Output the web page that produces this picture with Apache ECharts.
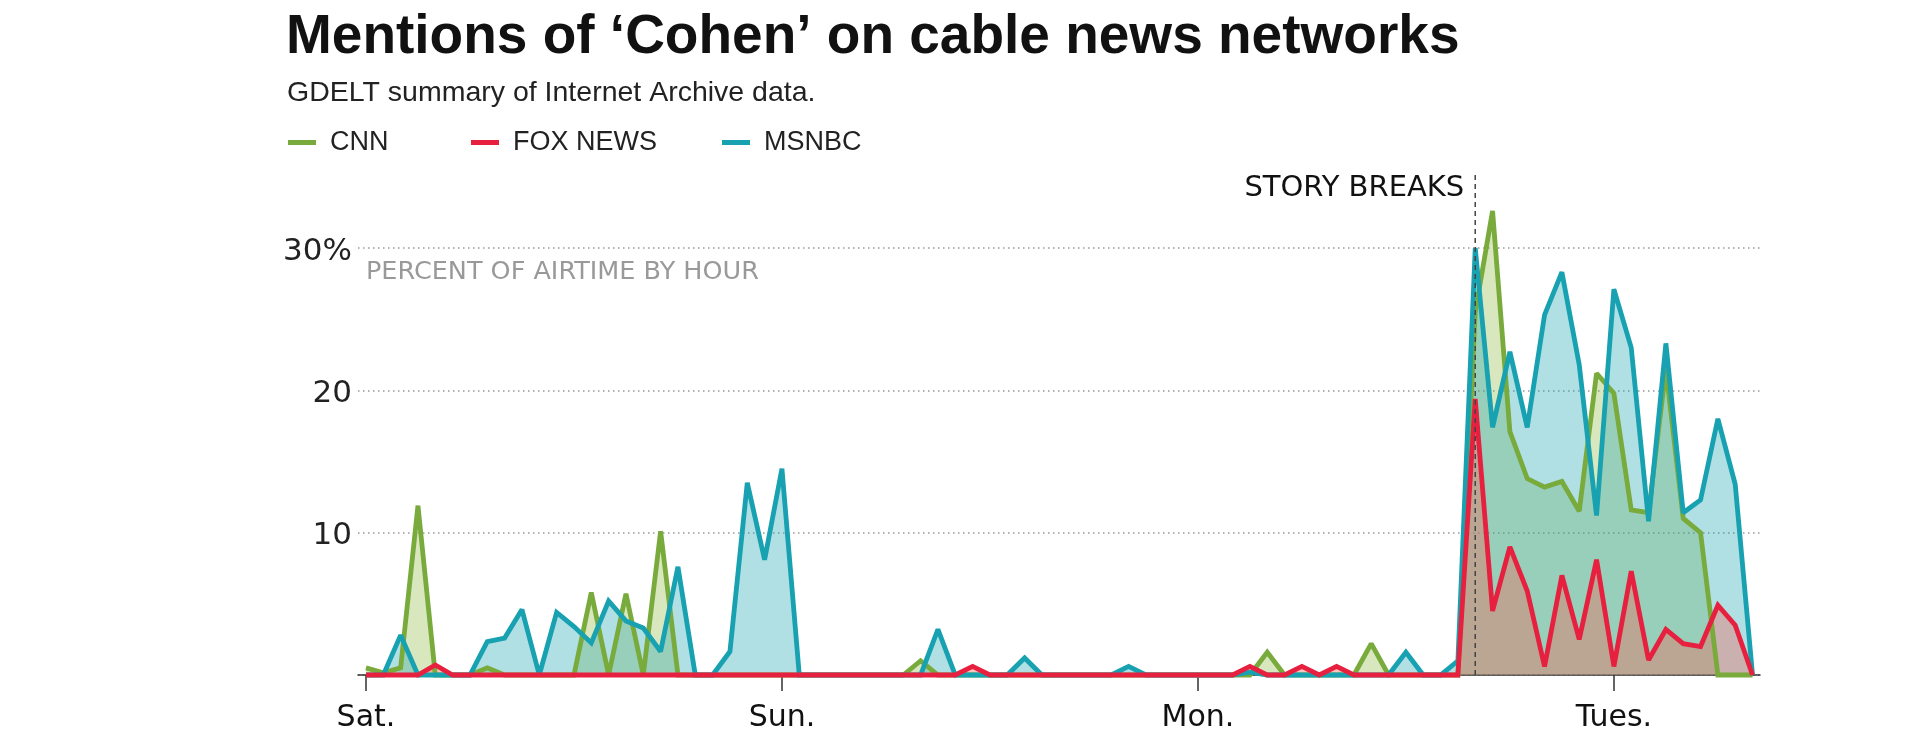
<!DOCTYPE html>
<html>
<head>
<meta charset="utf-8">
<title>Mentions of ‘Cohen’ on cable news networks</title>
<script src="https://cdn.jsdelivr.net/npm/echarts@6/dist/echarts.min.js"></script>
<style>
  html, body { margin: 0; padding: 0; background: #fff; }
  #main { width: 1920px; height: 740px; }
</style>
</head>
<body>
<div id="main"></div>
<script>
// percent of airtime by hour, hour 0 = Saturday 00:00
var cnn = [
  0.5, 0.15, 0.5, 11.9, 0, 0, 0, 0.5, 0, 0, 0, 0, 0, 5.8, 0, 5.7, 0, 10.1, 0, 0, 0, 0, 0, 0,
  0, 0, 0, 0, 0, 0, 0, 0, 1.0, 0, 0, 0, 0, 0, 0, 0, 0, 0, 0, 0, 0, 0, 0, 0,
  0, 0, 0, 0, 1.6, 0, 0, 0, 0, 0, 2.2, 0, 0, 0, 0, 0, 25.5, 32.6, 17.1, 13.8, 13.2, 13.6, 11.5, 21.2,
  19.8, 11.6, 11.4, 21.5, 11.0, 10.0, 0, 0, 0
];
var fox = [
  0, 0, 0, 0, 0.7, 0, 0, 0, 0, 0, 0, 0, 0, 0, 0, 0, 0, 0, 0, 0, 0, 0, 0, 0,
  0, 0, 0, 0, 0, 0, 0, 0, 0, 0, 0, 0.6, 0, 0, 0, 0, 0, 0, 0, 0, 0, 0, 0, 0,
  0, 0, 0, 0.6, 0, 0, 0.6, 0, 0.6, 0, 0, 0, 0, 0, 0, 0, 19.4, 4.5, 9.0, 5.9, 0.6, 7.0, 2.5, 8.1,
  0.6, 7.3, 1.05, 3.2, 2.2, 2.0, 4.9, 3.5, 0
];
var msnbc = [
  0, 0, 2.8, 0, 0, 0, 0, 2.35, 2.6, 4.6, 0, 4.4, 3.4, 2.25, 5.2, 3.8, 3.3, 1.65, 7.6, 0, 0, 1.65, 13.5, 8.1,
  14.5, 0, 0, 0, 0, 0, 0, 0, 0, 3.2, 0, 0, 0, 0, 1.2, 0, 0, 0, 0, 0, 0.6, 0, 0, 0,
  0, 0, 0, 0.2, 0, 0, 0, 0, 0, 0, 0, 0, 1.6, 0, 0, 1.0, 30, 17.4, 22.7, 17.4, 25.3, 28.3, 21.8, 11.2,
  27.1, 23.0, 10.8, 23.3, 11.4, 12.3, 18.0, 13.4, 0
];

var dayTicks = [0, 24, 48, 72];
var dayLabels = ['Sat.', 'Sun.', 'Mon.', 'Tues.'];
var storyHour = 64;
var storyLine = [[storyHour, 0], [storyHour, 35.4]];

var GREEN = '#79aa3c', RED = '#e6203e', TEAL = '#17a1b1';

function pairs(arr) {
  return arr.map(function (v, i) { return [i, v]; });
}

var myChart = echarts.init(document.getElementById('main'));

function areaSeries(name, arr, fill) {
  return {
    name: name, type: 'line', data: pairs(arr), symbol: 'none', clip: false, silent: true, z: 1,
    lineStyle: { width: 0 },
    areaStyle: { color: fill, opacity: 1 }
  };
}
function lineSeries(name, arr, color, z) {
  return {
    name: name, type: 'line', data: pairs(arr), symbol: 'none', clip: false, silent: true, z: z,
    itemStyle: { color: color },
    lineStyle: { color: color, width: 4.8, join: 'miter', miterLimit: 2 }
  };
}

var legendText = { fontFamily: 'Liberation Sans', fontSize: 27, color: '#222', padding: [0, 0, 0, 9] };
function legendFor(name, color, left) {
  return {
    data: [{ name: name, itemStyle: { color: color } }],
    left: left, top: 129, padding: 0,
    icon: 'rect', itemWidth: 28, itemHeight: 5,
    selectedMode: false,
    textStyle: legendText
  };
}

var option = {
  animation: false,
  title: [
    { text: 'Mentions of ‘Cohen’ on cable news networks', left: 286, top: 10, padding: 0,
      textStyle: { fontFamily: 'Liberation Sans', fontWeight: 'bold', fontSize: 55, color: '#111' } },
    { text: 'GDELT summary of Internet Archive data.', left: 287, top: 79, padding: 0,
      textStyle: { fontFamily: 'Liberation Sans', fontWeight: 'normal', fontSize: 28.5, color: '#222' } }
  ],
  legend: [
    legendFor('CNN', GREEN, 288),
    legendFor('FOX NEWS', RED, 471),
    legendFor('MSNBC', TEAL, 722)
  ],
  grid: { left: 358, right: 160, top: 248, bottom: 65 },
  xAxis: {
    type: 'value', min: -0.46, max: 80.43,
    axisLine: { lineStyle: { color: '#333', width: 1.5 } },
    axisTick: { customValues: dayTicks, length: 16, lineStyle: { color: '#333', width: 1.5 } },
    axisLabel: {
      customValues: dayTicks,
      formatter: function (v) { return dayLabels[dayTicks.indexOf(v)]; },
      fontFamily: 'DejaVu Sans', fontSize: 30, color: '#111', margin: 28
    },
    splitLine: { show: false }
  },
  yAxis: {
    type: 'value', min: 0, max: 30, interval: 10,
    axisLine: { show: false },
    axisTick: { show: false },
    axisLabel: {
      margin: 6,
      formatter: function (v) { return v === 0 ? '' : '{t|' + (v === 30 ? v + '%' : v) + '}'; },
      rich: {
        t: { fontFamily: 'DejaVu Sans', fontSize: 31, color: '#222', padding: [7, 0, 0, 0] }
      }
    },
    splitLine: { lineStyle: { color: '#999', width: 1.5, type: [1.5, 3.5] } }
  },
  series: [
    areaSeries('CNN area', cnn, 'rgba(128,174,42,0.30)'),
    areaSeries('MSNBC area', msnbc, 'rgba(23,161,177,0.34)'),
    areaSeries('FOX area', fox, 'rgba(242,106,92,0.40)'),
    lineSeries('CNN', cnn, GREEN, 3),
    lineSeries('MSNBC', msnbc, TEAL, 4),
    Object.assign(lineSeries('FOX NEWS', fox, RED, 5), {
      markPoint: {
        symbol: 'circle', symbolSize: 0, silent: true,
        data: [{ coord: [0, 28.3], value: 'PERCENT OF AIRTIME BY HOUR' }],
        label: { show: true, position: 'right', distance: 0, formatter: '{c}',
          fontFamily: 'DejaVu Sans', fontSize: 25.5, color: '#999' }
      }
    }),
    {
      name: 'story', type: 'line', symbol: 'circle', symbolSize: 0, showSymbol: true,
      clip: false, silent: true, z: 6,
      itemStyle: { color: '#444' },
      data: [storyLine[0], {
        value: storyLine[1],
        label: { show: true, position: 'left', distance: 11, offset: [0, 17.5],
          formatter: 'STORY BREAKS', fontFamily: 'DejaVu Sans', fontSize: 29, color: '#111' }
      }],
      lineStyle: { color: '#444', width: 1.5, type: [5, 4] }
    }
  ]
};
myChart.setOption(option);
</script>
</body>
</html>
